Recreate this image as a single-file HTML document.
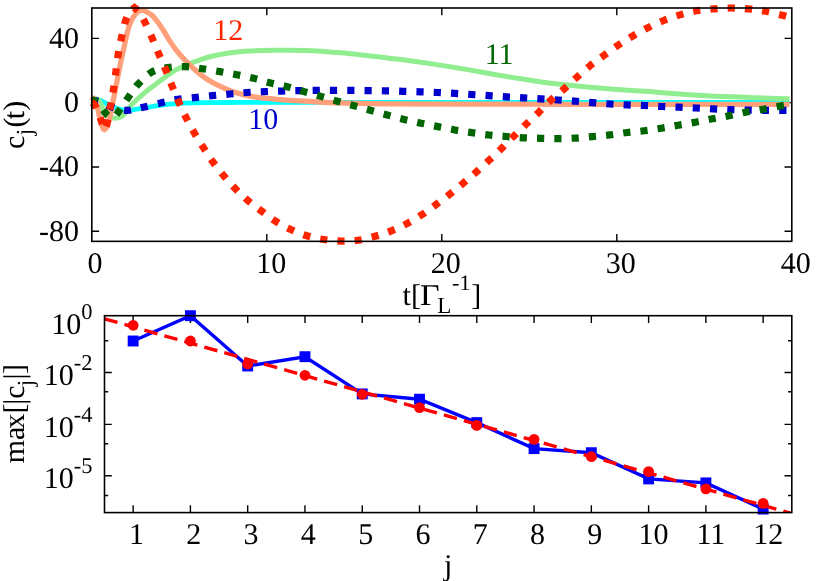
<!DOCTYPE html>
<html><head><meta charset="utf-8"><title>plot</title>
<style>html,body{margin:0;padding:0;background:#fff;}body{width:830px;height:581px;overflow:hidden;}svg{display:block;will-change:transform;}text{font-family:"Liberation Serif",serif;text-rendering:geometricPrecision;}</style></head><body>
<svg width="830" height="581" viewBox="0 0 830 581">
<rect x="0" y="0" width="830" height="581" fill="#fff"/>
<g stroke="#000" stroke-width="1.4" fill="none" stroke-linecap="butt">
<path d="M266.80 241.35v-7.3M266.80 8.00v7.3"/>
<path d="M441.80 241.35v-7.3M441.80 8.00v7.3"/>
<path d="M616.80 241.35v-7.3M616.80 8.00v7.3"/>
<path d="M91.80 38.37h7.3M791.80 38.37h-7.3"/>
<path d="M91.80 102.65h7.3M791.80 102.65h-7.3"/>
<path d="M91.80 166.93h7.3M791.80 166.93h-7.3"/>
<path d="M91.80 231.21h7.3M791.80 231.21h-7.3"/>
</g>
<path d="M91.80 101.00C92.50 100.83 94.63 100.12 96.00 100.00C97.37 99.88 98.00 99.58 100.00 100.30C102.00 101.02 105.00 102.88 108.00 104.30C111.00 105.72 114.80 107.75 118.00 108.80C121.20 109.85 124.37 110.52 127.20 110.60C130.03 110.68 132.20 109.77 135.00 109.30C137.80 108.83 140.98 108.30 144.00 107.80C147.02 107.30 148.77 106.92 153.10 106.30C157.43 105.68 164.68 104.62 170.00 104.10C175.32 103.58 179.17 103.43 185.00 103.20C190.83 102.97 197.50 102.82 205.00 102.70C212.50 102.58 216.67 102.55 230.00 102.50C243.33 102.45 245.83 102.42 285.00 102.40C324.17 102.38 380.90 102.40 465.00 102.40C549.10 102.40 735.50 102.40 789.60 102.40" fill="none" stroke="#00ffff" stroke-width="4.8" stroke-linejoin="round"/>
<path d="M91.80 101.00C92.33 100.75 93.85 99.70 95.00 99.50C96.15 99.30 97.38 98.33 98.70 99.80C100.02 101.27 101.52 105.93 102.90 108.30C104.28 110.67 105.73 112.55 107.00 114.00C108.27 115.45 109.25 116.30 110.50 117.00C111.75 117.70 113.17 118.10 114.50 118.20C115.83 118.30 117.23 117.95 118.50 117.60C119.77 117.25 120.85 116.95 122.10 116.10C123.35 115.25 124.65 114.13 126.00 112.50C127.35 110.87 128.18 108.63 130.20 106.30C132.22 103.97 135.28 101.10 138.10 98.50C140.92 95.90 144.10 93.12 147.10 90.70C150.10 88.28 153.12 86.25 156.10 84.00C159.08 81.75 161.98 79.40 165.00 77.20C168.02 75.00 170.65 72.83 174.20 70.80C177.75 68.77 181.88 66.87 186.30 65.00C190.72 63.13 196.30 61.10 200.70 59.60C205.10 58.10 208.68 56.98 212.70 56.00C216.72 55.02 220.78 54.35 224.80 53.70C228.82 53.05 232.78 52.53 236.80 52.10C240.82 51.67 244.88 51.35 248.90 51.10C252.92 50.85 256.88 50.73 260.90 50.60C264.92 50.48 268.30 50.42 273.00 50.35C277.70 50.28 282.40 50.14 289.10 50.20C295.80 50.26 305.17 50.30 313.20 50.70C321.23 51.10 329.27 51.90 337.30 52.60C345.33 53.30 353.37 54.03 361.40 54.90C369.43 55.77 377.47 56.83 385.50 57.80C393.53 58.77 401.57 59.65 409.60 60.70C417.63 61.75 426.80 63.07 433.70 64.10C440.60 65.13 445.10 65.93 451.00 66.90C456.90 67.87 462.07 68.68 469.10 69.90C476.13 71.12 485.17 72.80 493.20 74.20C501.23 75.60 509.27 77.02 517.30 78.30C525.33 79.58 533.37 80.82 541.40 81.90C549.43 82.98 557.47 83.92 565.50 84.80C573.53 85.68 581.57 86.47 589.60 87.20C597.63 87.93 603.78 88.47 613.70 89.20C623.62 89.93 639.18 90.88 649.10 91.60C659.02 92.32 665.17 92.90 673.20 93.50C681.23 94.10 689.27 94.72 697.30 95.20C705.33 95.68 713.37 96.05 721.40 96.40C729.43 96.75 737.47 96.98 745.50 97.30C753.53 97.62 762.25 98.05 769.60 98.30C776.95 98.55 786.27 98.72 789.60 98.80" fill="none" stroke="#90ee90" stroke-width="5.0" stroke-linejoin="round"/>
<path d="M91.80 101.00C92.13 100.53 93.10 98.03 93.80 98.20C94.50 98.37 95.30 100.03 96.00 102.00C96.70 103.97 97.25 106.85 98.00 110.00C98.75 113.15 99.75 117.98 100.50 120.90C101.25 123.82 101.83 126.02 102.50 127.50C103.17 128.98 103.83 129.80 104.50 129.80C105.17 129.80 105.87 128.63 106.50 127.50C107.13 126.37 107.70 124.90 108.30 123.00C108.90 121.10 109.40 119.27 110.10 116.10C110.80 112.93 111.80 107.52 112.50 104.00C113.20 100.48 113.55 98.83 114.30 95.00C115.05 91.17 116.03 86.00 117.00 81.00C117.97 76.00 119.05 70.07 120.10 65.00C121.15 59.93 122.00 56.43 123.30 50.60C124.60 44.77 126.55 35.02 127.90 30.00C129.25 24.98 129.92 23.40 131.40 20.50C132.88 17.60 135.37 14.23 136.80 12.60C138.23 10.97 138.82 11.07 140.00 10.70C141.18 10.33 142.90 10.25 143.90 10.40C144.90 10.55 144.65 10.80 146.00 11.60C147.35 12.40 149.98 13.38 152.00 15.20C154.02 17.02 156.08 19.78 158.10 22.50C160.12 25.22 162.30 28.65 164.10 31.50C165.90 34.35 166.82 36.42 168.90 39.60C170.98 42.78 173.90 47.15 176.60 50.60C179.30 54.05 182.50 57.52 185.10 60.30C187.70 63.08 189.60 64.90 192.20 67.30C194.80 69.70 197.88 72.48 200.70 74.70C203.52 76.92 206.10 78.77 209.10 80.60C212.10 82.43 215.28 84.05 218.70 85.70C222.12 87.35 225.98 89.13 229.60 90.50C233.22 91.87 236.58 92.88 240.40 93.90C244.22 94.92 248.48 95.88 252.50 96.60C256.52 97.32 260.48 97.73 264.50 98.20C268.52 98.67 272.50 99.05 276.60 99.40C280.70 99.75 283.00 99.92 289.10 100.30C295.20 100.68 305.17 101.27 313.20 101.70C321.23 102.13 325.25 102.55 337.30 102.90C349.35 103.25 364.22 103.60 385.50 103.80C406.78 104.00 429.25 104.02 465.00 104.10C500.75 104.18 545.90 104.27 600.00 104.30C654.10 104.33 758.00 104.30 789.60 104.30" fill="none" stroke="#ffa07a" stroke-width="5.3" stroke-linejoin="round"/>
<path d="M91.80 101.20C92.42 101.13 94.30 100.80 95.50 100.80C96.70 100.80 97.58 100.80 99.00 101.20C100.42 101.60 102.15 102.32 104.00 103.20C105.85 104.08 107.60 105.48 110.10 106.50C112.60 107.52 116.08 108.65 119.00 109.30C121.92 109.95 124.93 110.42 127.60 110.40C130.27 110.38 132.17 109.78 135.00 109.20C137.83 108.62 140.18 107.97 144.60 106.90C149.02 105.83 155.97 104.07 161.50 102.80C167.03 101.53 172.28 100.17 177.80 99.30C183.32 98.43 188.90 98.20 194.60 97.60C200.30 97.00 206.17 96.30 212.00 95.70C217.83 95.10 223.78 94.53 229.60 94.00C235.42 93.47 241.08 92.90 246.90 92.50C252.72 92.10 258.75 91.83 264.50 91.60C270.25 91.37 275.70 91.27 281.40 91.10C287.10 90.93 292.92 90.72 298.70 90.60C304.48 90.48 310.32 90.43 316.10 90.40C321.88 90.37 327.62 90.40 333.40 90.40C339.18 90.40 345.02 90.37 350.80 90.40C356.58 90.43 362.32 90.53 368.10 90.60C373.88 90.67 379.72 90.68 385.50 90.80C391.28 90.92 397.02 91.13 402.80 91.30C408.58 91.47 414.42 91.60 420.20 91.80C425.98 92.00 431.77 92.23 437.50 92.50C443.23 92.77 448.93 93.07 454.60 93.40C460.27 93.73 465.78 94.12 471.50 94.50C477.22 94.88 483.12 95.30 488.90 95.70C494.68 96.10 500.47 96.55 506.20 96.90C511.93 97.25 517.55 97.48 523.30 97.80C529.05 98.12 534.95 98.43 540.70 98.80C546.45 99.17 552.07 99.60 557.80 100.00C563.53 100.40 569.32 100.77 575.10 101.20C580.88 101.63 586.72 102.13 592.50 102.60C598.28 103.07 604.07 103.62 609.80 104.00C615.53 104.38 621.15 104.65 626.90 104.90C632.65 105.15 638.52 105.23 644.30 105.50C650.08 105.77 655.82 106.22 661.60 106.50C667.38 106.78 673.25 106.95 679.00 107.20C684.75 107.45 690.37 107.72 696.10 108.00C701.83 108.28 707.67 108.63 713.40 108.90C719.13 109.17 724.75 109.40 730.50 109.60C736.25 109.80 742.07 109.97 747.90 110.10C753.73 110.23 759.77 110.35 765.50 110.40C771.23 110.45 778.40 110.40 782.30 110.40C786.20 110.40 787.80 110.40 788.90 110.40" fill="none" stroke="#0000cd" stroke-width="7.2" stroke-dasharray="7.2 10.1" stroke-dashoffset="0.7" stroke-linejoin="miter" stroke-miterlimit="10"/>
<path d="M91.80 99.60C92.38 99.83 94.18 100.35 95.30 101.00C96.42 101.65 97.38 102.33 98.50 103.50C99.62 104.67 100.87 106.45 102.00 108.00C103.13 109.55 104.25 111.47 105.30 112.80C106.35 114.13 107.18 115.23 108.30 116.00C109.42 116.77 110.80 117.47 112.00 117.40C113.20 117.33 114.42 116.57 115.50 115.60C116.58 114.63 117.17 113.45 118.50 111.60C119.83 109.75 121.85 106.90 123.50 104.50C125.15 102.10 126.73 99.62 128.40 97.20C130.07 94.78 131.78 92.27 133.50 90.00C135.22 87.73 135.73 86.55 138.70 83.60C141.67 80.65 146.40 74.98 151.30 72.30C156.20 69.62 162.37 68.43 168.10 67.50C173.83 66.57 180.00 66.50 185.70 66.70C191.40 66.90 196.60 67.88 202.30 68.70C208.00 69.52 214.15 70.60 219.90 71.60C225.65 72.60 231.17 73.58 236.80 74.70C242.43 75.82 248.20 76.97 253.70 78.30C259.20 79.63 264.22 81.30 269.80 82.70C275.38 84.10 281.50 85.22 287.20 86.70C292.90 88.18 298.38 89.98 304.00 91.60C309.62 93.22 315.35 94.80 320.90 96.40C326.45 98.00 331.75 99.63 337.30 101.20C342.85 102.77 348.68 104.28 354.20 105.80C359.72 107.32 364.88 108.77 370.40 110.30C375.92 111.83 381.68 113.48 387.30 115.00C392.92 116.52 398.48 118.03 404.10 119.40C409.72 120.77 415.37 122.00 421.00 123.20C426.63 124.40 432.30 125.47 437.90 126.60C443.50 127.73 448.97 129.00 454.60 130.00C460.23 131.00 465.98 131.77 471.70 132.60C477.42 133.43 483.17 134.35 488.90 135.00C494.63 135.65 500.37 136.03 506.10 136.50C511.83 136.97 517.53 137.50 523.30 137.80C529.07 138.10 534.95 138.17 540.70 138.30C546.45 138.43 552.07 138.63 557.80 138.60C563.53 138.57 569.32 138.43 575.10 138.10C580.88 137.77 586.72 137.13 592.50 136.60C598.28 136.07 604.03 135.58 609.80 134.90C615.57 134.22 621.38 133.18 627.10 132.50C632.82 131.82 638.43 131.52 644.10 130.80C649.77 130.08 655.45 129.12 661.10 128.20C666.75 127.28 672.28 126.30 678.00 125.30C683.72 124.30 689.65 123.28 695.40 122.20C701.15 121.12 706.85 119.88 712.50 118.80C718.15 117.72 723.60 116.83 729.30 115.70C735.00 114.57 740.98 113.08 746.70 112.00C752.42 110.92 757.98 110.20 763.60 109.20C769.22 108.20 776.18 106.78 780.40 106.00C784.62 105.22 787.48 104.75 788.90 104.50" fill="none" stroke="#006400" stroke-width="7.2" stroke-dasharray="7.2 10.1" stroke-dashoffset="1.5" stroke-linejoin="miter" stroke-miterlimit="10"/>
<path d="M91.50 102.20C91.97 102.58 93.30 103.03 94.30 104.50C95.30 105.97 96.37 108.37 97.50 111.00C98.63 113.63 100.18 117.72 101.10 120.30C102.02 122.88 102.43 124.88 103.00 126.50C103.57 128.12 104.03 129.83 104.50 130.00C104.97 130.17 105.37 128.62 105.80 127.50C106.23 126.38 106.62 125.38 107.10 123.30C107.58 121.22 108.15 117.85 108.70 115.00C109.25 112.15 109.85 109.20 110.40 106.20C110.95 103.20 111.47 99.93 112.00 97.00C112.53 94.07 112.97 92.72 113.60 88.60C114.23 84.48 115.05 77.93 115.80 72.30C116.55 66.67 117.15 60.58 118.10 54.80C119.05 49.02 120.25 43.28 121.50 37.60C122.75 31.92 124.18 25.00 125.60 20.70C127.02 16.40 128.53 13.95 130.00 11.80C131.47 9.65 133.67 8.47 134.40 7.80C135.22 8.53 137.53 9.78 139.30 12.20C141.07 14.62 142.85 17.95 145.00 22.30C147.15 26.65 149.88 32.98 152.20 38.30C154.52 43.62 156.65 48.93 158.90 54.20C161.15 59.47 163.48 64.55 165.70 69.90C167.92 75.25 169.98 80.88 172.20 86.30C174.42 91.72 176.67 97.15 179.00 102.40C181.33 107.65 183.63 112.70 186.20 117.80C188.77 122.90 191.50 127.98 194.40 133.00C197.30 138.02 200.47 143.02 203.60 147.90C206.73 152.78 209.80 157.60 213.20 162.30C216.60 167.00 220.27 171.67 224.00 176.10C227.73 180.53 231.58 184.80 235.60 188.90C239.62 193.00 243.80 197.02 248.10 200.70C252.40 204.38 256.85 207.60 261.40 211.00C265.95 214.40 270.50 218.00 275.40 221.10C280.30 224.20 285.58 227.15 290.80 229.60C296.02 232.05 301.23 234.15 306.70 235.80C312.17 237.45 317.90 238.62 323.60 239.50C329.30 240.38 335.17 240.97 340.90 241.10C346.63 241.23 352.30 241.10 358.00 240.30C363.70 239.50 369.55 237.88 375.10 236.30C380.65 234.72 386.00 232.92 391.30 230.80C396.60 228.68 401.77 226.30 406.90 223.60C412.03 220.90 417.23 217.78 422.10 214.60C426.97 211.42 431.48 207.90 436.10 204.50C440.72 201.10 445.30 197.73 449.80 194.20C454.30 190.67 458.68 187.00 463.10 183.30C467.52 179.60 472.00 175.82 476.30 172.00C480.60 168.18 484.68 164.33 488.90 160.40C493.12 156.47 497.47 152.43 501.60 148.40C505.73 144.37 509.58 140.27 513.70 136.20C517.82 132.13 522.08 128.02 526.30 124.00C530.52 119.98 534.88 116.10 539.00 112.10C543.12 108.10 546.78 103.90 551.00 100.00C555.22 96.10 559.97 92.52 564.30 88.70C568.63 84.88 572.67 80.97 577.00 77.10C581.33 73.23 585.80 69.12 590.30 65.50C594.80 61.88 599.38 58.77 604.00 55.40C608.62 52.03 613.23 48.52 618.00 45.30C622.77 42.08 627.62 39.03 632.60 36.10C637.58 33.17 642.73 30.30 647.90 27.70C653.07 25.10 658.27 22.63 663.60 20.50C668.93 18.37 674.40 16.52 679.90 14.90C685.40 13.28 690.97 11.80 696.60 10.80C702.23 9.80 707.97 9.37 713.70 8.90C719.43 8.43 725.22 8.00 731.00 8.00C736.78 8.00 742.65 8.35 748.40 8.90C754.15 9.45 759.85 10.25 765.50 11.30C771.15 12.35 778.40 14.25 782.30 15.20C786.20 16.15 787.80 16.70 788.90 17.00" fill="none" stroke="#ff2400" stroke-width="7.2" stroke-dasharray="7.2 10.1" stroke-dashoffset="-0.5" stroke-linejoin="miter" stroke-miterlimit="10"/>
<rect x="91.8" y="8.0" width="700.0" height="233.35" stroke="#000" stroke-width="1.6" fill="none"/>
<text x="79.00" y="47.87" font-size="30" text-anchor="end">40</text>
<text x="79.00" y="112.15" font-size="30" text-anchor="end">0</text>
<text x="79.00" y="176.43" font-size="30" text-anchor="end">-40</text>
<text x="79.00" y="240.71" font-size="30" text-anchor="end">-80</text>
<text x="95.10" y="272.80" font-size="30" text-anchor="middle">0</text>
<text x="271.30" y="272.80" font-size="30" text-anchor="middle">10</text>
<text x="445.80" y="272.80" font-size="30" text-anchor="middle">20</text>
<text x="620.80" y="272.80" font-size="30" text-anchor="middle">30</text>
<text x="795.80" y="272.80" font-size="30" text-anchor="middle">40</text>
<text x="213.30" y="40.00" font-size="30" text-anchor="start" fill="#ff2400">12</text>
<text x="484.70" y="63.90" font-size="30" text-anchor="start" fill="#006400">11</text>
<text x="248.20" y="128.60" font-size="30" text-anchor="start" fill="#0000cd">10</text>
<text x="402.40" y="304.90" font-size="30" text-anchor="start">t</text>
<text x="411.00" y="304.90" font-size="30" text-anchor="start">[</text>
<text transform="translate(419.9,304.9) scale(1.13,1)" x="0" y="0" font-size="30">&#915;</text>
<text x="437.30" y="312.50" font-size="23" text-anchor="start">L</text>
<text x="452.10" y="289.90" font-size="22" text-anchor="start">-1</text>
<text x="471.30" y="304.90" font-size="30" text-anchor="start">]</text>
<g transform="translate(23.7,148.1) rotate(-90)"><text font-size="30" x="-1 20.6 28.9 37.4" y="0">c(t)</text><text font-size="23" x="12.8" y="8.7">j</text></g>
<defs><clipPath id="cb"><rect x="104.5" y="315.7" width="687.3" height="196.90000000000003"/></clipPath></defs>
<g stroke="#000" stroke-width="1.4" fill="none">
<path d="M133.14 512.60v-7.3M133.14 315.70v7.3"/>
<path d="M190.41 512.60v-7.3M190.41 315.70v7.3"/>
<path d="M247.69 512.60v-7.3M247.69 315.70v7.3"/>
<path d="M304.96 512.60v-7.3M304.96 315.70v7.3"/>
<path d="M362.24 512.60v-7.3M362.24 315.70v7.3"/>
<path d="M419.51 512.60v-7.3M419.51 315.70v7.3"/>
<path d="M476.79 512.60v-7.3M476.79 315.70v7.3"/>
<path d="M534.06 512.60v-7.3M534.06 315.70v7.3"/>
<path d="M591.34 512.60v-7.3M591.34 315.70v7.3"/>
<path d="M648.61 512.60v-7.3M648.61 315.70v7.3"/>
<path d="M705.89 512.60v-7.3M705.89 315.70v7.3"/>
<path d="M763.16 512.60v-7.3M763.16 315.70v7.3"/>
<path d="M104.50 372.50h7.3M791.80 372.50h-7.3"/>
<path d="M104.50 424.40h7.3M791.80 424.40h-7.3"/>
<path d="M104.50 475.80h7.3M791.80 475.80h-7.3"/>
<path d="M104.50 340.70h3.7M791.80 340.70h-3.7"/>
<path d="M104.50 391.70h3.7M791.80 391.70h-3.7"/>
<path d="M104.50 443.80h3.7M791.80 443.80h-3.7"/>
<path d="M104.50 495.50h3.7M791.80 495.50h-3.7"/>
</g>
<polyline fill="none" stroke="#0000ff" stroke-width="3.4" stroke-linejoin="miter" points="133.14,341.00 190.41,315.70 247.69,366.00 304.96,356.70 362.24,393.90 419.51,399.20 476.79,422.60 534.06,448.60 591.34,452.70 648.61,478.90 705.89,482.90 763.16,509.10"/>
<rect x="127.69" y="335.55" width="10.9" height="10.9" fill="#0000ff"/>
<rect x="184.96" y="310.25" width="10.9" height="10.9" fill="#0000ff"/>
<rect x="242.24" y="360.55" width="10.9" height="10.9" fill="#0000ff"/>
<rect x="299.51" y="351.25" width="10.9" height="10.9" fill="#0000ff"/>
<rect x="356.79" y="388.45" width="10.9" height="10.9" fill="#0000ff"/>
<rect x="414.06" y="393.75" width="10.9" height="10.9" fill="#0000ff"/>
<rect x="471.34" y="417.15" width="10.9" height="10.9" fill="#0000ff"/>
<rect x="528.61" y="443.15" width="10.9" height="10.9" fill="#0000ff"/>
<rect x="585.89" y="447.25" width="10.9" height="10.9" fill="#0000ff"/>
<rect x="643.16" y="473.45" width="10.9" height="10.9" fill="#0000ff"/>
<rect x="700.44" y="477.45" width="10.9" height="10.9" fill="#0000ff"/>
<rect x="757.71" y="503.65" width="10.9" height="10.9" fill="#0000ff"/>
<path clip-path="url(#cb)" d="M104.50 318.80L791.80 513.51" stroke="#ff0000" stroke-width="3.4" fill="none" stroke-dasharray="13.5 7.25" stroke-dashoffset="0"/>
<circle cx="133.14" cy="325.30" r="5.4" fill="#ff0000"/>
<circle cx="190.41" cy="341.00" r="5.4" fill="#ff0000"/>
<circle cx="247.69" cy="363.90" r="5.4" fill="#ff0000"/>
<circle cx="304.96" cy="375.30" r="5.4" fill="#ff0000"/>
<circle cx="362.24" cy="394.30" r="5.4" fill="#ff0000"/>
<circle cx="419.51" cy="407.60" r="5.4" fill="#ff0000"/>
<circle cx="476.79" cy="425.40" r="5.4" fill="#ff0000"/>
<circle cx="534.06" cy="439.40" r="5.4" fill="#ff0000"/>
<circle cx="591.34" cy="456.70" r="5.4" fill="#ff0000"/>
<circle cx="648.61" cy="471.60" r="5.4" fill="#ff0000"/>
<circle cx="705.89" cy="488.90" r="5.4" fill="#ff0000"/>
<circle cx="763.16" cy="503.40" r="5.4" fill="#ff0000"/>
<rect x="104.5" y="315.7" width="687.3" height="196.90000000000003" stroke="#000" stroke-width="1.6" fill="none"/>
<text x="92.6" y="333.50" font-size="30" text-anchor="end">10<tspan font-size="22.5" dy="-15">0</tspan></text>
<text x="92.6" y="385.30" font-size="30" text-anchor="end">10<tspan font-size="22.5" dy="-15">-2</tspan></text>
<text x="92.6" y="436.80" font-size="30" text-anchor="end">10<tspan font-size="22.5" dy="-15">-4</tspan></text>
<text x="92.6" y="488.40" font-size="30" text-anchor="end">10<tspan font-size="22.5" dy="-15">-5</tspan></text>
<text x="136.54" y="543.50" font-size="30" text-anchor="middle">1</text>
<text x="193.81" y="543.50" font-size="30" text-anchor="middle">2</text>
<text x="251.09" y="543.50" font-size="30" text-anchor="middle">3</text>
<text x="308.36" y="543.50" font-size="30" text-anchor="middle">4</text>
<text x="365.64" y="543.50" font-size="30" text-anchor="middle">5</text>
<text x="422.91" y="543.50" font-size="30" text-anchor="middle">6</text>
<text x="480.19" y="543.50" font-size="30" text-anchor="middle">7</text>
<text x="537.46" y="543.50" font-size="30" text-anchor="middle">8</text>
<text x="594.74" y="543.50" font-size="30" text-anchor="middle">9</text>
<text x="653.61" y="543.50" font-size="30" text-anchor="middle">10</text>
<text x="710.89" y="543.50" font-size="30" text-anchor="middle">11</text>
<text x="768.16" y="543.50" font-size="30" text-anchor="middle">12</text>
<text x="443.90" y="575.00" font-size="30" text-anchor="start">j</text>
<g transform="translate(23.9,463.2) rotate(-90)"><text font-size="30" x="0 23.1 34.4 49.6 58.4 64.5 83.7 89.3" y="0">max[|c|]</text><text font-size="23" x="76.9" y="8.7">j</text></g>
</svg></body></html>
